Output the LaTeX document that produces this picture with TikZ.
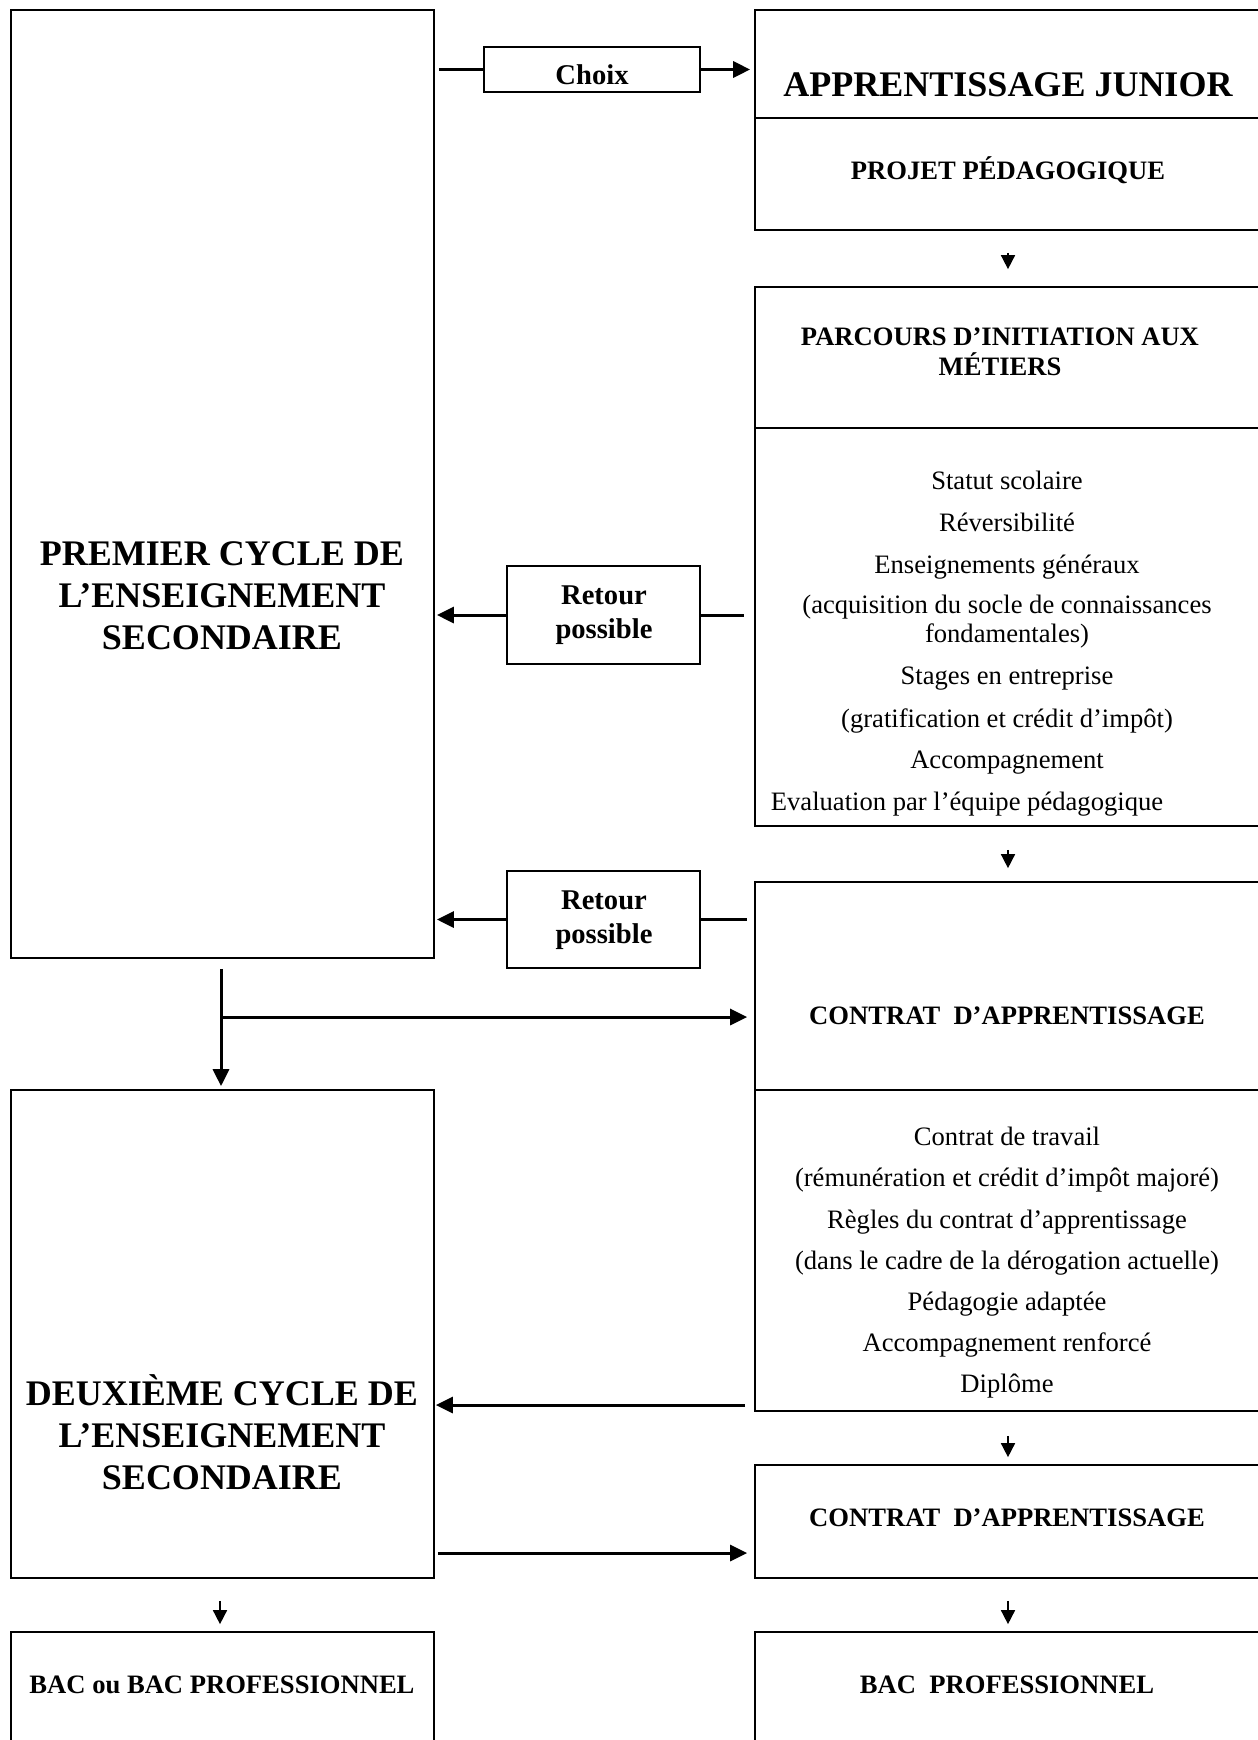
\documentclass[tikz,border=0pt]{standalone}
\usepackage{fontspec}
\setmainfont{Liberation Serif}
\usetikzlibrary{arrows.meta,fit,calc}
\begin{document}
\begin{tikzpicture}[x=0.5pt,y=-0.5pt,
 box/.style={draw, line width=0.85pt, inner sep=0pt},
 tbox/.style={draw, line width=0.75pt, inner sep=0pt},
 conn/.style={line width=1.5pt},
 arr/.style={line width=1.5pt, -{Triangle[length=8.5pt,width=8pt]}},
 sarr/.style={line width=0.8pt, -{Triangle[length=7pt,width=7pt]}},
 body/.style={font=\fontsize{13.3}{14.5}\selectfont, inner sep=0pt, align=center},
 head/.style={font=\bfseries\fontsize{13.3}{15}\selectfont, inner sep=0pt, align=center},
 big/.style={font=\bfseries\fontsize{18}{21}\selectfont, inner sep=0pt, align=center},
 lab/.style={font=\bfseries\fontsize{14.3}{17}\selectfont, inner sep=0pt, align=center},
]
\useasboundingbox (0,0) rectangle (1258,1740);
\clip (0,0) rectangle (1258,1740);

% boxes
\node[box, fit={(11,10) (434,958)}] (premier) {};
\node[tbox, fit={(484,47) (700,92)}] (choix) {};
\node[box, fit={(755,10) (1300,118)}] (junior) {};
\node[box, fit={(755,118) (1300,230)}] (projet) {};
\node[box, fit={(755,287) (1300,428)}] (phead) {};
\node[box, fit={(755,428) (1300,826)}] (pbody) {};
\node[tbox, fit={(507,566) (700,664)}] (retour1) {};
\node[tbox, fit={(507,871) (700,968)}] (retour2) {};
\node[box, fit={(755,882) (1300,1090)}] (chead) {};
\node[box, fit={(755,1090) (1300,1411)}] (cbody) {};
\node[box, fit={(11,1090) (434,1578)}] (deux) {};
\node[box, fit={(755,1465) (1300,1578)}] (contrat2) {};
\node[box, fit={(11,1632) (434,1800)}] (bacou) {};
\node[box, fit={(755,1632) (1300,1800)}] (bacpro) {};

% texts
\node[lab] (tchoix) at (592,75) {Choix};
\node[big] (tjunior) at (1008,85) {APPRENTISSAGE JUNIOR};
\node[head] (tprojet) at (1008,170) {PROJET PÉDAGOGIQUE};
\node[head] (tparcours) at (1000,352) {PARCOURS D’INITIATION AUX\\MÉTIERS};
\node[body] (l1) at (1007,480) {Statut scolaire};
\node[body] (l2) at (1007,522) {Réversibilité};
\node[body] (l3) at (1007,567) {Enseignements généraux};
\node[body] (l4) at (1007,622) {(acquisition du socle de connaissances\\fondamentales)};
\node[body] (l5) at (1007,679) {Stages en entreprise};
\node[body] (l6) at (1007,721) {(gratification et crédit d’impôt)};
\node[body] (l7) at (1007,763) {Accompagnement};
\node[body] (l8) at (967,804) {Evaluation par l’équipe pédagogique};
\node[lab] (tretour1) at (604,615) {Retour\\possible};
\node[lab] (tretour2) at (604,920) {Retour\\possible};
\node[big] (tpremier) at (222,596) {PREMIER CYCLE DE\\L’ENSEIGNEMENT\\SECONDAIRE};
\node[head] (tchead) at (1007,1016) {CONTRAT\ \ D’APPRENTISSAGE};
\node[body] (m1) at (1007,1136) {Contrat de travail};
\node[body] (m2) at (1007,1180) {(rémunération et crédit d’impôt majoré)};
\node[body] (m3) at (1007,1222) {Règles du contrat d’apprentissage};
\node[body] (m4) at (1007,1263) {(dans le cadre de la dérogation actuelle)};
\node[body] (m5) at (1007,1304) {Pédagogie adaptée};
\node[body] (m6) at (1007,1345) {Accompagnement renforcé};
\node[body] (m7) at (1007,1386) {Diplôme};
\node[big] (tdeux) at (222,1432) {DEUXIÈME CYCLE DE\\L’ENSEIGNEMENT\\SECONDAIRE};
\node[head] (tcontrat2) at (1007,1518) {CONTRAT\ \ D’APPRENTISSAGE};
\node[head] (tbacou) at (222,1685) {BAC ou BAC PROFESSIONNEL};
\node[head] (tbacpro) at (1007,1685) {BAC\ \ PROFESSIONNEL};

% connectors
\draw[conn, shorten <=2pt] (premier.east |- choix.west) -- (choix.west);
\draw[arr, shorten >=2pt] (choix.east) -- (choix.east -| junior.west);
\draw[arr, shorten >=1pt] (retour1.west) -- (retour1.west -| premier.east);
\draw[conn, shorten >=5pt] (retour1.east) -- (retour1.east -| pbody.west);
\draw[arr, shorten >=1pt] (retour2.west) -- (retour2.west -| premier.east);
\draw[conn, shorten >=3.5pt] (retour2.east) -- (retour2.east -| chead.west);

\coordinate (vx) at (221,0);
\coordinate (br) at (221,1017);
\draw[arr, shorten <=5pt, shorten >=1.5pt] (premier.south -| vx) -- (deux.north -| vx);
\draw[arr, shorten >=3.5pt] (br) -- (br -| chead.west);

\coordinate (y1) at (0,1405);
\coordinate (y2) at (0,1553);
\draw[arr, shorten <=4.5pt, shorten >=0.5pt] (cbody.west |- y1) -- (deux.east |- y1);
\draw[arr, shorten <=1.5pt, shorten >=3.5pt] (deux.east |- y2) -- (contrat2.west |- y2);

\coordinate (cx) at (1008,0);
\coordinate (lx) at (220,0);
\draw[sarr, shorten <=11pt, shorten >=8.5pt] (projet.south -| cx) -- (phead.north -| cx);
\draw[sarr, shorten <=11.5pt, shorten >=6.5pt] (pbody.south -| cx) -- (chead.north -| cx);
\draw[sarr, shorten <=12pt, shorten >=3.5pt] (cbody.south -| cx) -- (contrat2.north -| cx);
\draw[sarr, shorten <=11pt, shorten >=3.5pt] (contrat2.south -| cx) -- (bacpro.north -| cx);
\draw[sarr, shorten <=11pt, shorten >=3.5pt] (deux.south -| lx) -- (bacou.north -| lx);
\end{tikzpicture}
\end{document}
